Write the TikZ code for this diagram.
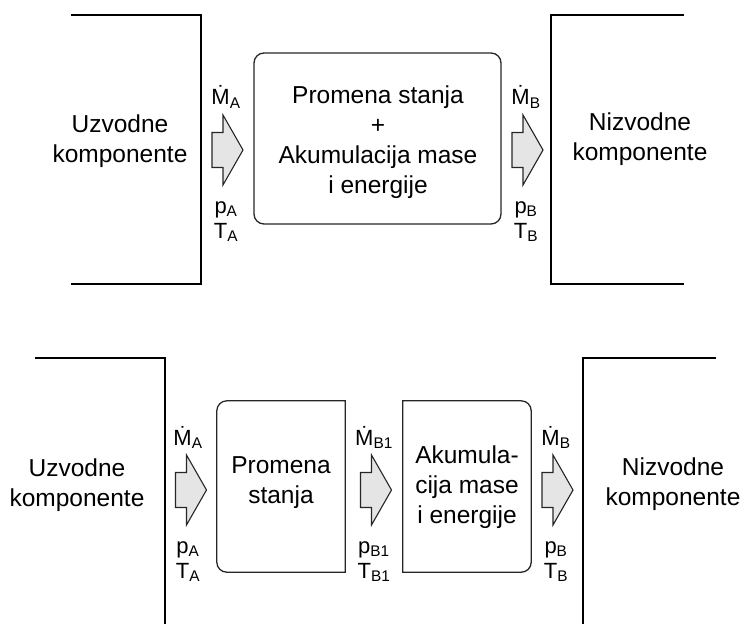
\documentclass[tikz,border=0pt]{standalone}
\usepackage{fontspec}
\setmainfont{Liberation Sans}
\usetikzlibrary{calc}
\newcommand{\Mdot}{Ṁ}
\newcommand{\lsub}[1]{\textsubscript{#1}}
\tikzset{
  wall/.style={line width=1.3pt, draw=black, line cap=rect},
  txt/.style={font=\fontsize{24.5}{30}\selectfont, align=center, inner sep=0pt},
  lbl/.style={font=\fontsize{22}{26}\selectfont, anchor=base, inner sep=0pt},
  blk/.style={line width=1.1pt, draw=black!85, fill=gray!20, line join=miter},
  boxline/.style={line width=1.3pt, draw=black!85},
  flowarrow/.pic={
    \draw[blk] (-15.5,-17.5) -- (-4.5,-17.5) -- (-4.5,-35) -- (15.5,0) -- (-4.5,35) -- (-4.5,17.5) -- (-15.5,17.5) -- cycle;
  }
}
\begin{document}
\begin{tikzpicture}[x=1pt,y=-1pt]
\useasboundingbox (0,0) rectangle (743,623);

% ---------- top part ----------
\draw[wall] (72,15) -- (201,15) -- (201,284) -- (72,284);
\draw[wall] (683,15) -- (551,15) -- (551,284) -- (683,284);
\node[draw=black!85, line width=1.3pt, rounded corners=10pt, minimum width=247pt, minimum height=171pt, inner sep=0pt] (tb) at (377.5,138.5) {};
\node[txt] (tbt) at (378,142) {Promena stanja\\+\\Akumulacija mase\\i energije};
\node[txt] (uz1) at (120,141) {Uzvodne\\komponente};
\node[txt] (niz1) at (640,139) {Nizvodne\\komponente};

\pic (a1) at (227.5,150) {flowarrow};
\pic (a2) at (527.5,150) {flowarrow};
\node[lbl] (m1) at (226,105) {\Mdot\lsub{A}};
\node[lbl] (p1) at (226,213) {p\lsub{A}};
\node[lbl] (t1) at (226,238) {T\lsub{A}};
\node[lbl] (m2) at (526,105) {\Mdot\lsub{B}};
\node[lbl] (p2) at (526,213) {p\lsub{B}};
\node[lbl] (t2) at (526,238) {T\lsub{B}};

% ---------- bottom part ----------
\draw[wall] (36,358) -- (165,358) -- (165,623);
\draw[wall] (715,358) -- (583,358) -- (583,623);

\node[minimum width=128pt, minimum height=171pt, inner sep=0pt] (b1) at (281,486.5) {};
\node[minimum width=128pt, minimum height=171pt, inner sep=0pt] (b2) at (467,486.5) {};
\draw[boxline] (b1.south) [rounded corners=10pt] -- (b1.south west) -- (b1.north west) -- (b1.north) [sharp corners] -- (b1.north east) -- (b1.south east) -- cycle;
\draw[boxline] (b2.south) [rounded corners=10pt] -- (b2.south east) -- (b2.north east) -- (b2.north) [sharp corners] -- (b2.north west) -- (b2.south west) -- cycle;
\node[txt] (b1t) at (281,483) {Promena\\stanja};
\node[txt] (b2t) at (467,487) {Akumula-\\cija mase\\i energije};
\node[txt] (uz2) at (77,485) {Uzvodne\\komponente};
\node[txt] (niz2) at (673,484) {Nizvodne\\komponente};

\pic (a3) at (191,490) {flowarrow};
\pic (a4) at (376,490) {flowarrow};
\pic (a5) at (557.5,490) {flowarrow};
\node[lbl] (m3) at (188,445) {\Mdot\lsub{A}};
\node[lbl] (p3) at (188,553) {p\lsub{A}};
\node[lbl] (t3) at (188,578) {T\lsub{A}};
\node[lbl] (m4) at (374,445) {\Mdot\lsub{B1}};
\node[lbl] (p4) at (374,553) {p\lsub{B1}};
\node[lbl] (t4) at (374,578) {T\lsub{B1}};
\node[lbl] (m5) at (556,445) {\Mdot\lsub{B}};
\node[lbl] (p5) at (556,553) {p\lsub{B}};
\node[lbl] (t5) at (556,578) {T\lsub{B}};
\end{tikzpicture}
\end{document}
